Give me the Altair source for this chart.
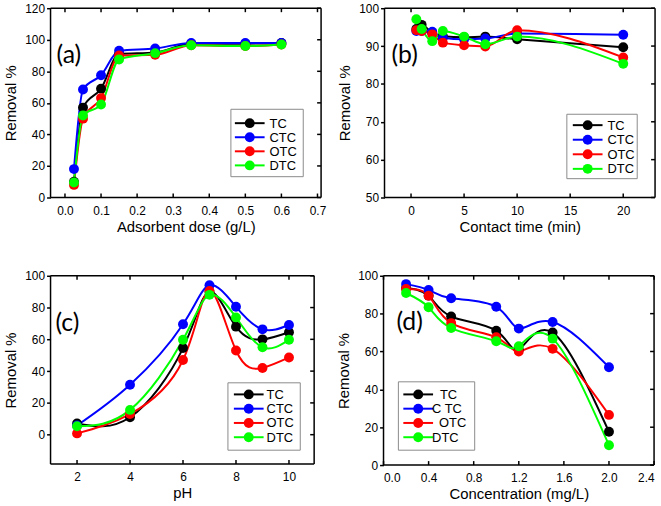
import altair as alt
import pandas as pd

SERIES = ["TC", "CTC", "OTC", "DTC"]
LEGEND_D = ["TC", "C TC", "OTC", "DTC"]
COLORS = ["#000000", "#0000ff", "#ff0000", "#00ff00"]

# (a) adsorbent dose
a_x = [0.025, 0.05, 0.1, 0.15, 0.25, 0.35, 0.5, 0.6]
a_tc = [10, 57, 69, 91, 92, 97.5, 97.5, 98]
a_ctc = [18, 68.5, 77.5, 93, 94.5, 98, 98, 98]
a_otc = [8, 50, 63, 90, 90.5, 96.5, 96, 97]
a_dtc = [9.5, 52, 59, 87.5, 91.5, 96.5, 96, 97]

# (b) contact time
b_x = [0.5, 1, 2, 3, 5, 7, 10, 20]
b_tc = [94.5, 95.6, 93.5, 92.6, 92.3, 92.5, 91.8, 89.7]
b_ctc = [94, 94, 93.8, 92.2, 91.8, 92, 93.3, 93]
b_otc = [94.2, 94, 93.1, 90.9, 90.2, 89.9, 94.2, 87]
b_dtc = [97.1, 94.5, 91.3, 94, 92.5, 90.5, 92.5, 85.3]

# (c) pH
c_x = [2, 4, 6, 7, 8, 9, 10]
c_tc = [7, 11, 54.5, 90, 68, 60, 64.5]
c_ctc = [5.8, 31.4, 69.5, 94, 80.5, 66.3, 69]
c_otc = [0.8, 13, 47, 90.5, 53, 42, 48.6]
c_dtc = [5.3, 15.6, 59.7, 88, 73.8, 55, 59.7]

# (d) concentration
d_x = [0.2, 0.4, 0.6, 1.0, 1.2, 1.5, 2.0]
d_tc = [93.5, 89.5, 78.5, 71, 61, 70, 17.6]
d_ctc = [95.6, 92.5, 88.1, 83.6, 72.1, 75.6, 51.7]
d_otc = [93, 89.5, 75, 67.5, 60, 61.4, 26.5]
d_dtc = [90.9, 83.4, 72.4, 65.4, 62.8, 66.8, 10.5]


def long_df(x, cols):
    rows = []
    for name, vals in zip(SERIES, cols):
        for xi, yi in zip(x, vals):
            rows.append({"x": xi, "y": yi, "series": name})
    return pd.DataFrame(rows)


AXFONT = "Liberation Sans"
ONE = pd.DataFrame({"k": [0]})


def legend_layers(names, box, row0, drow, line_x, label_x):
    """Legend drawn as marks placed in the plot's pixel frame."""
    layers = [
        alt.Chart(ONE).mark_rect(fill="white", stroke="#8a8a8a", strokeWidth=1).encode(
            x=alt.value(box[0]), x2=alt.value(box[1]),
            y=alt.value(box[2]), y2=alt.value(box[3]))
    ]
    for i, (name, col) in enumerate(zip(names, COLORS)):
        yy = row0 + i * drow
        layers.append(alt.Chart(ONE).mark_rule(color=col, strokeWidth=2).encode(
            x=alt.value(line_x[0]), x2=alt.value(line_x[1]), y=alt.value(yy)))
        layers.append(alt.Chart(ONE).mark_point(
            filled=True, size=100, color=col, opacity=1).encode(
            x=alt.value((line_x[0] + line_x[1]) / 2), y=alt.value(yy)))
        lx = label_x[i] if isinstance(label_x, list) else label_x
        layers.append(alt.Chart(ONE).mark_text(
            font=AXFONT, fontSize=13, align="left", baseline="middle", color="black"
        ).encode(x=alt.value(lx), y=alt.value(yy + 0.5), text=alt.value(name)))
    return layers


def frame_layers(width, height):
    r = dict(color="black", strokeWidth=1.5)
    return [
        alt.Chart(ONE).mark_rule(**r).encode(x=alt.value(0), x2=alt.value(width), y=alt.value(0)),
        alt.Chart(ONE).mark_rule(**r).encode(x=alt.value(0), x2=alt.value(width), y=alt.value(height)),
        alt.Chart(ONE).mark_rule(**r).encode(x=alt.value(0), y=alt.value(0), y2=alt.value(height)),
        alt.Chart(ONE).mark_rule(**r).encode(x=alt.value(width), y=alt.value(0), y2=alt.value(height)),
    ]


def panel(df, xdom, ydom, xticks, yticks, xfmt, xtitle, label, label_xy,
          leg, width, height, interp):
    xs = alt.Scale(domain=xdom, nice=False, zero=False)
    ys = alt.Scale(domain=ydom, nice=False, zero=False)
    cs = alt.Scale(domain=SERIES, range=COLORS)
    xa = alt.Axis(values=xticks, format=xfmt, title=xtitle, ticks=False, tickSize=0,
                  domain=False, grid=False, labelPadding=8, titlePadding=3,
                  labelOverlap=False)
    ya = alt.Axis(values=yticks, title="Removal %", tickSize=4,
                  domain=False, grid=False, labelPadding=2, titlePadding=6,
                  labelOverlap=False)
    base = alt.Chart(df)
    lines = base.mark_line(interpolate=interp, strokeWidth=2).encode(
        x=alt.X("x:Q", scale=xs, axis=xa),
        y=alt.Y("y:Q", scale=ys, axis=ya),
        color=alt.Color("series:N", scale=cs, legend=None),
    )
    points = base.mark_point(filled=True, size=100, opacity=1).encode(
        x=alt.X("x:Q", scale=xs, axis=xa),
        y=alt.Y("y:Q", scale=ys, axis=ya),
        color=alt.Color("series:N", scale=cs, legend=None))
    # inward ticks on bottom / top (x) and right (y), placed by the scales
    xt = alt.Chart(pd.DataFrame({"v": xticks}))
    yt = alt.Chart(pd.DataFrame({"v": yticks}))
    tk = dict(color="black", strokeWidth=1.5)
    tb = xt.mark_rule(**tk).encode(x=alt.X("v:Q", scale=xs, axis=xa),
                                   y=alt.value(height - 4), y2=alt.value(height))
    tt = xt.mark_rule(**tk).encode(x=alt.X("v:Q", scale=xs, axis=xa),
                                   y=alt.value(0), y2=alt.value(4))
    tr = yt.mark_rule(**tk).encode(y=alt.Y("v:Q", scale=ys, axis=ya),
                                   x=alt.value(width - 4), x2=alt.value(width))
    text = alt.Chart(pd.DataFrame({"t": [label]})).mark_text(
        font="Lato", fontSize=25, align="left", baseline="middle", color="black"
    ).encode(x=alt.value(label_xy[0]), y=alt.value(label_xy[1]), text="t:N")
    return alt.layer(lines, points, tb, tt, tr, text, *leg,
                     *frame_layers(width, height)).properties(width=width, height=height)


pa = panel(long_df(a_x, [a_tc, a_ctc, a_otc, a_dtc]),
           [-0.04, 0.71], [0, 120], [0, 0.1, 0.2, 0.3, 0.4, 0.5, 0.6, 0.7],
           [0, 20, 40, 60, 80, 100, 120], ".1f", "Adsorbent dose (g/L)", "(a)",
           (6, 47), legend_layers(SERIES, (182, 255, 102, 170), 116, 14.2, (186, 216), 221),
           273, 191, "monotone")
pb = panel(long_df(b_x, [b_tc, b_ctc, b_otc, b_dtc]),
           [-2.5, 23], [50, 100], [0, 5, 10, 15, 20],
           [50, 60, 70, 80, 90, 100], "d", "Contact time (min)", "(b)",
           (7, 47), legend_layers(SERIES, (184, 255, 107, 172), 118, 14.7, (190, 220), 225),
           273, 191, "monotone")
pc = panel(long_df(c_x, [c_tc, c_ctc, c_otc, c_dtc]),
           [1, 10.95], [-18.5, 100], [2, 4, 6, 8, 10],
           [0, 20, 40, 60, 80, 100], "d", "pH", "(c)",
           (5, 48), legend_layers(SERIES, (179, 252, 108, 176), 119.7, 14.4, (185, 215), 218),
           266, 190, "natural")
pd_ = panel(long_df(d_x, [d_tc, d_ctc, d_otc, d_dtc]),
            [0, 2.4], [0, 100], [0, 0.4, 0.8, 1.2, 1.6, 2.0, 2.4],
            [0, 20, 40, 60, 80, 100], ".1f", "Concentration (mg/L)", "(d)",
            (13, 47), legend_layers(LEGEND_D, (15, 92, 107, 176), 119.7, 14.4, (20, 50), [57, 49, 56, 49]),
            273, 191, "natural")

row1 = alt.hconcat(pa, pb, spacing=11)
row2 = alt.hconcat(pc, pd_, spacing=21)
chart = alt.vconcat(row1, row2, spacing=36).properties(
    padding={"left": 3, "top": 0, "right": 5, "bottom": 0}
).configure_view(stroke=None).configure_axis(
    labelFont=AXFONT, labelFontSize=12, labelColor="black",
    titleFont=AXFONT, titleFontSize=15, titleFontWeight="normal", titleColor="black",
    tickColor="black", tickWidth=1.5,
)

chart.save("out.html", embed_options={"renderer": "svg", "actions": False})
